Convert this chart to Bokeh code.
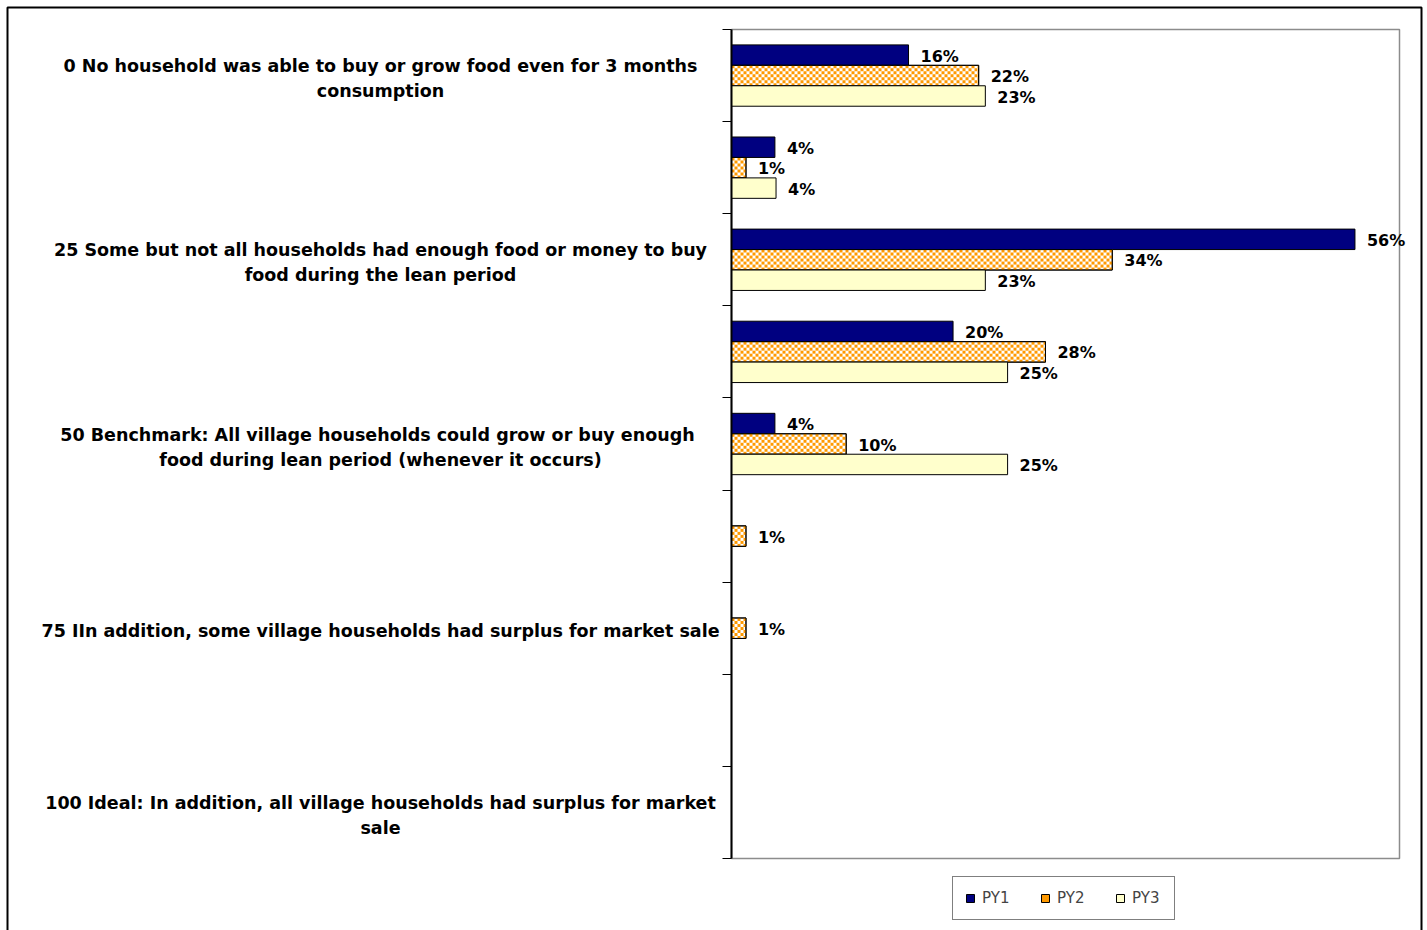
import math
from bokeh.plotting import figure
from bokeh.models import (ColumnDataSource, Range1d, FixedTicker, Legend, LegendItem,
                          BoxAnnotation, LinearAxis)
from bokeh.core.properties import value
from bokeh.embed import file_html
from bokeh.resources import INLINE

# ---------------- data ----------------
categories = [
    "0 No household was able to buy or grow food even for 3 months\nconsumption",
    "",
    "25 Some but not all households had enough food or money to buy\nfood during the lean period",
    "",
    "50 Benchmark: All village households  could grow or buy enough\nfood during lean period (whenever it occurs)",
    "",
    "75 IIn addition, some village households had surplus for market sale",
    "",
    "100 Ideal: In addition, all village households had surplus for market\nsale",
]
series_names = ["PY1", "PY2", "PY3"]
py1 = [15.9, 3.9, 56.0, 19.9, 3.9, None, None, None, None]
py2 = [22.2, 1.3, 34.2, 28.2, 10.3, 1.3, 1.3, None, None]
py3 = [22.8, 4.0, 22.8, 24.8, 24.8, None, None, None, None]
x_max = 60

# ---------------- layout geometry (pixels) ----------------
W, H = 1427, 930
PX_L, PX_R, PX_T, PX_B = 731, 1399, 29, 858
n_cat = len(categories)
xppu = (PX_R - PX_L) / x_max
yppu = (PX_B - PX_T) / n_cat
x_start, x_end = -PX_L / xppu, x_max + (W - PX_R) / xppu
y_top, y_bottom = -PX_T / yppu, n_cat + (H - PX_B) / yppu

p = figure(width=W, height=H, output_backend="svg", toolbar_location=None,
           x_range=Range1d(x_start, x_end), y_range=Range1d(y_bottom, y_top),
           x_axis_location=None, y_axis_location=None, min_border=0)
p.xgrid.visible = False
p.ygrid.visible = False
p.outline_line_color = None
p.background_fill_color = "white"
p.border_fill_color = "white"

# plot-area frame (grey)
p.quad(left=[0], right=[x_max], top=[0], bottom=[n_cat], fill_color=None,
       line_color="#8c8c8c", line_width=1.5)

bar_h = 0.222
offsets = [-0.222, 0.0, 0.222]
fills = ["#000080", "white", "#FFFFCC"]
ORANGE = "#FF9900"
CELL = 3  # checker cell size in px

legend_renderers = []
for k, (vals, off, fc) in enumerate(zip([py1, py2, py3], offsets, fills)):
    ys, xs, labs = [], [], []
    for i, v in enumerate(vals):
        if v is None:
            continue
        ys.append(i + 0.5 + off)
        xs.append(v)
        labs.append(f"{round(v):.0f}%")
    src = ColumnDataSource(dict(y=ys, right=xs, lab=labs))
    r = p.hbar(y="y", right="right", left=0, height=bar_h, source=src,
               fill_color=fc, line_color="black", line_width=1)
    if k == 1:
        # orange / white checker pattern inside the PY2 bars
        cl, cr, ct, cb = [], [], [], []
        for yc, v in zip(ys, xs):
            top, bot = yc - bar_h / 2, yc + bar_h / 2
            ncol = math.ceil(v * xppu / CELL)
            nrow = math.ceil(bar_h * yppu / CELL)
            for rr in range(nrow):
                for cc in range(ncol):
                    if (rr + cc) % 2:
                        continue
                    cl.append(cc * CELL / xppu)
                    cr.append(min((cc + 1) * CELL / xppu, v))
                    ct.append(top + rr * CELL / yppu)
                    cb.append(min(top + (rr + 1) * CELL / yppu, bot))
        cells = p.quad(left=cl, right=cr, top=ct, bottom=cb, fill_color=ORANGE,
                       line_color=None)
        outline = p.hbar(y="y", right="right", left=0, height=bar_h, source=src,
                         fill_color=None, line_color="black", line_width=1)
        legend_renderers.append([cells, outline])
    else:
        legend_renderers.append([r])
    p.text(x="right", y="y", text="lab", source=src, x_offset=12, y_offset=1,
           text_font=value("DejaVu Sans"), text_font_style="bold",
           text_font_size="16px", text_color="black",
           text_align="left", text_baseline="middle")

# category axis (ticks between categories), drawn at x = 0
yax = LinearAxis(fixed_location=0, bounds=(0, n_cat),
                 ticker=FixedTicker(ticks=list(range(n_cat + 1))),
                 major_label_overrides={i: "" for i in range(n_cat + 1)},
                 axis_line_color="black", axis_line_width=2,
                 major_tick_line_color="black", major_tick_line_width=1,
                 major_tick_out=9, major_tick_in=0, minor_tick_line_color=None)
p.add_layout(yax, "left")

# category labels
lab_src = ColumnDataSource(dict(
    x=[-(PX_L - 380) / xppu] * n_cat,
    y=[i + 0.5 for i in range(n_cat)],
    t=categories))
p.text(x="x", y="y", text="t", source=lab_src, text_align="center",
       text_baseline="middle", text_font=value("DejaVu Sans"),
       text_font_style="bold", text_font_size="17.5px", y_offset=3,
       text_line_height=1.25, text_color="black")

legend = Legend(items=[LegendItem(label=n, renderers=rs)
                       for n, rs in zip(series_names, legend_renderers)],
                orientation="horizontal", location=(952, H - 920),
                glyph_width=10, glyph_height=10, label_standoff=7, spacing=28,
                label_width=30, padding=12, margin=0,
                label_text_font="DejaVu Sans", label_text_font_size="15px",
                border_line_color="black", border_line_width=1,
                background_fill_color="white", background_fill_alpha=1)
p.add_layout(legend)

# outer frame of the chart
p.add_layout(BoxAnnotation(left=(7 - PX_L) / xppu, right=(1421 - PX_L) / xppu,
                           top=(7 - PX_T) / yppu, bottom=n_cat + (945 - PX_B) / yppu,
                           fill_alpha=0, line_color="black", line_alpha=1,
                           line_width=2))

open("out.html", "w").write(file_html(p, INLINE))
